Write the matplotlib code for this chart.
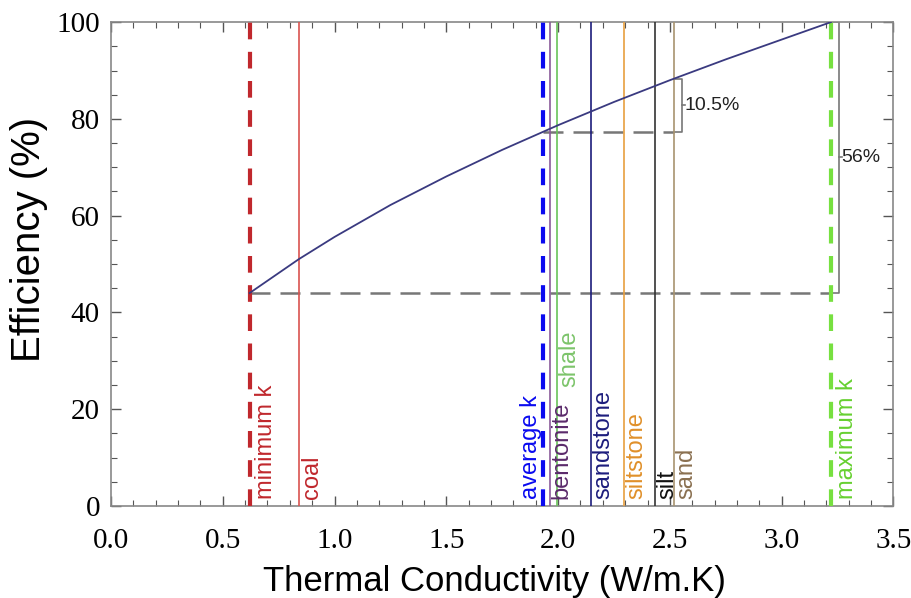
import matplotlib
matplotlib.use("Agg")
import matplotlib.pyplot as plt
from matplotlib.ticker import MultipleLocator
import numpy as np

# efficiency curve
k_curve = [0.62, 0.84, 1.0, 1.25, 1.5, 1.75, 2.0, 2.25, 2.5, 2.75, 3.0, 3.22]
eff_curve = [44.0, 51.0, 55.6, 62.2, 68.1, 73.6, 78.7, 83.5, 88.0, 92.3, 96.4, 100.0]

# reference conductivities
k_min, k_avg, k_max = 0.622, 1.932, 3.221
rock_names = ["coal", "bentonite", "shale", "sandstone", "siltstone", "silt", "sand"]
rock_k = [0.842, 1.962, 1.995, 2.149, 2.296, 2.432, 2.52]
rock_line_colors = ["#d9534f", "#8a5a9a", "#6ac45a", "#1c1c7c", "#e8a040", "#333333", "#a89470"]
rock_text_colors = ["#c0282d", "#5b2a6b", "#7cc46a", "#1c1c7c", "#e0902a", "#111111", "#8a7050"]

GRAY = "#777777"
SANS = ["Liberation Sans", "DejaVu Sans"]
SERIF = ["Liberation Serif", "DejaVu Serif"]

fig = plt.figure(figsize=(9.12, 5.98), dpi=100)
ax = fig.add_axes([0.1217, 0.154, 0.858, 0.809])

eff = lambda k: float(np.interp(k, k_curve, eff_curve))
e_min, e_avg, e_sand, e_max = eff(k_min), eff(k_avg), eff(rock_k[-1]), eff(k_max)

# dashed reference levels
ax.plot([k_min, k_max], [e_min, e_min], color=GRAY, lw=1.8, dashes=(8, 4), zorder=2)
ax.plot([k_avg, rock_k[-1]], [e_avg, e_avg], color=GRAY, lw=1.8, dashes=(8, 4), zorder=2)

# reference k lines
ax.axvline(k_min, color="#c0282d", lw=3, dashes=(4, 3), zorder=3)
ax.axvline(k_avg, color="#0a0af0", lw=3, dashes=(4, 3), zorder=3)
ax.axvline(k_max, color="#77e040", lw=3, dashes=(4, 3), zorder=3)
for k, c in zip(rock_k, rock_line_colors):
    ax.axvline(k, color=c, lw=1.2, zorder=3)

ax.plot(k_curve, eff_curve, color="#3a3a80", lw=1.3, zorder=4)

# brackets
bx1 = rock_k[-1] + 0.035
ax.plot([rock_k[-1], bx1, bx1, rock_k[-1]], [e_sand, e_sand, e_avg, e_avg], color=GRAY, lw=1.2)
ax.plot([bx1, bx1 + 0.012], [(e_sand + e_avg) / 2] * 2, color=GRAY, lw=1.2)
ax.text(bx1 + 0.012, (e_sand + e_avg) / 2, "10.5%", fontsize=14, family=SANS,
        va="center", ha="left", color="#222222")
bx2 = k_max + 0.035
ax.plot([k_max, bx2, bx2, k_max], [e_max, e_max, e_min, e_min], color=GRAY, lw=1.2)
ax.plot([bx2, bx2 + 0.012], [(e_max + e_min) / 2] * 2, color=GRAY, lw=1.2)
ax.text(bx2 + 0.012, (e_max + e_min) / 2, "56%", fontsize=14, family=SANS,
        va="center", ha="left", color="#222222")

# vertical labels
lab_kw = dict(rotation=90, fontsize=17, family=SANS, va="bottom", ha="center", zorder=5)
ax.text(k_min + 0.07, 1.5, "minimum k", color="#c0282d", **lab_kw)
ax.text(k_avg - 0.055, 1.5, "average k", color="#0a0af0", **lab_kw)
ax.text(k_max + 0.07, 1.5, "maximum k", color="#66d030", **lab_kw)
for name, k, c in zip(rock_names, rock_k, rock_text_colors):
    y0 = 24.5 if name == "shale" else 1.5
    ax.text(k + 0.055, y0, name, color=c, **lab_kw)

ax.set_xlim(0, 3.5)
ax.set_ylim(0, 100)
ax.xaxis.set_major_locator(MultipleLocator(0.5))
ax.xaxis.set_minor_locator(MultipleLocator(0.1))
ax.yaxis.set_major_locator(MultipleLocator(20))
ax.yaxis.set_minor_locator(MultipleLocator(5))
ax.xaxis.set_major_formatter(matplotlib.ticker.FormatStrFormatter("%.1f"))
ax.tick_params(which="both", direction="in", top=True, right=True, color="#555555")
ax.tick_params(which="major", length=7, width=1)
ax.tick_params(which="minor", length=4, width=0.8)
ax.tick_params(axis="x", pad=16)
ax.tick_params(axis="y", pad=8)
for lbl in ax.get_xticklabels() + ax.get_yticklabels():
    lbl.set_family(SERIF)
    lbl.set_fontsize(21)
for sp in ax.spines.values():
    sp.set_color("#888888")
    sp.set_linewidth(1.2)

ax.set_xlabel("Thermal Conductivity (W/m.K)", fontsize=25, family=SANS, labelpad=8, x=0.49)
ax.set_ylabel("Efficiency (%)", fontsize=29, family=SANS, labelpad=6, y=0.55)

fig.savefig("out.png", dpi=100)
